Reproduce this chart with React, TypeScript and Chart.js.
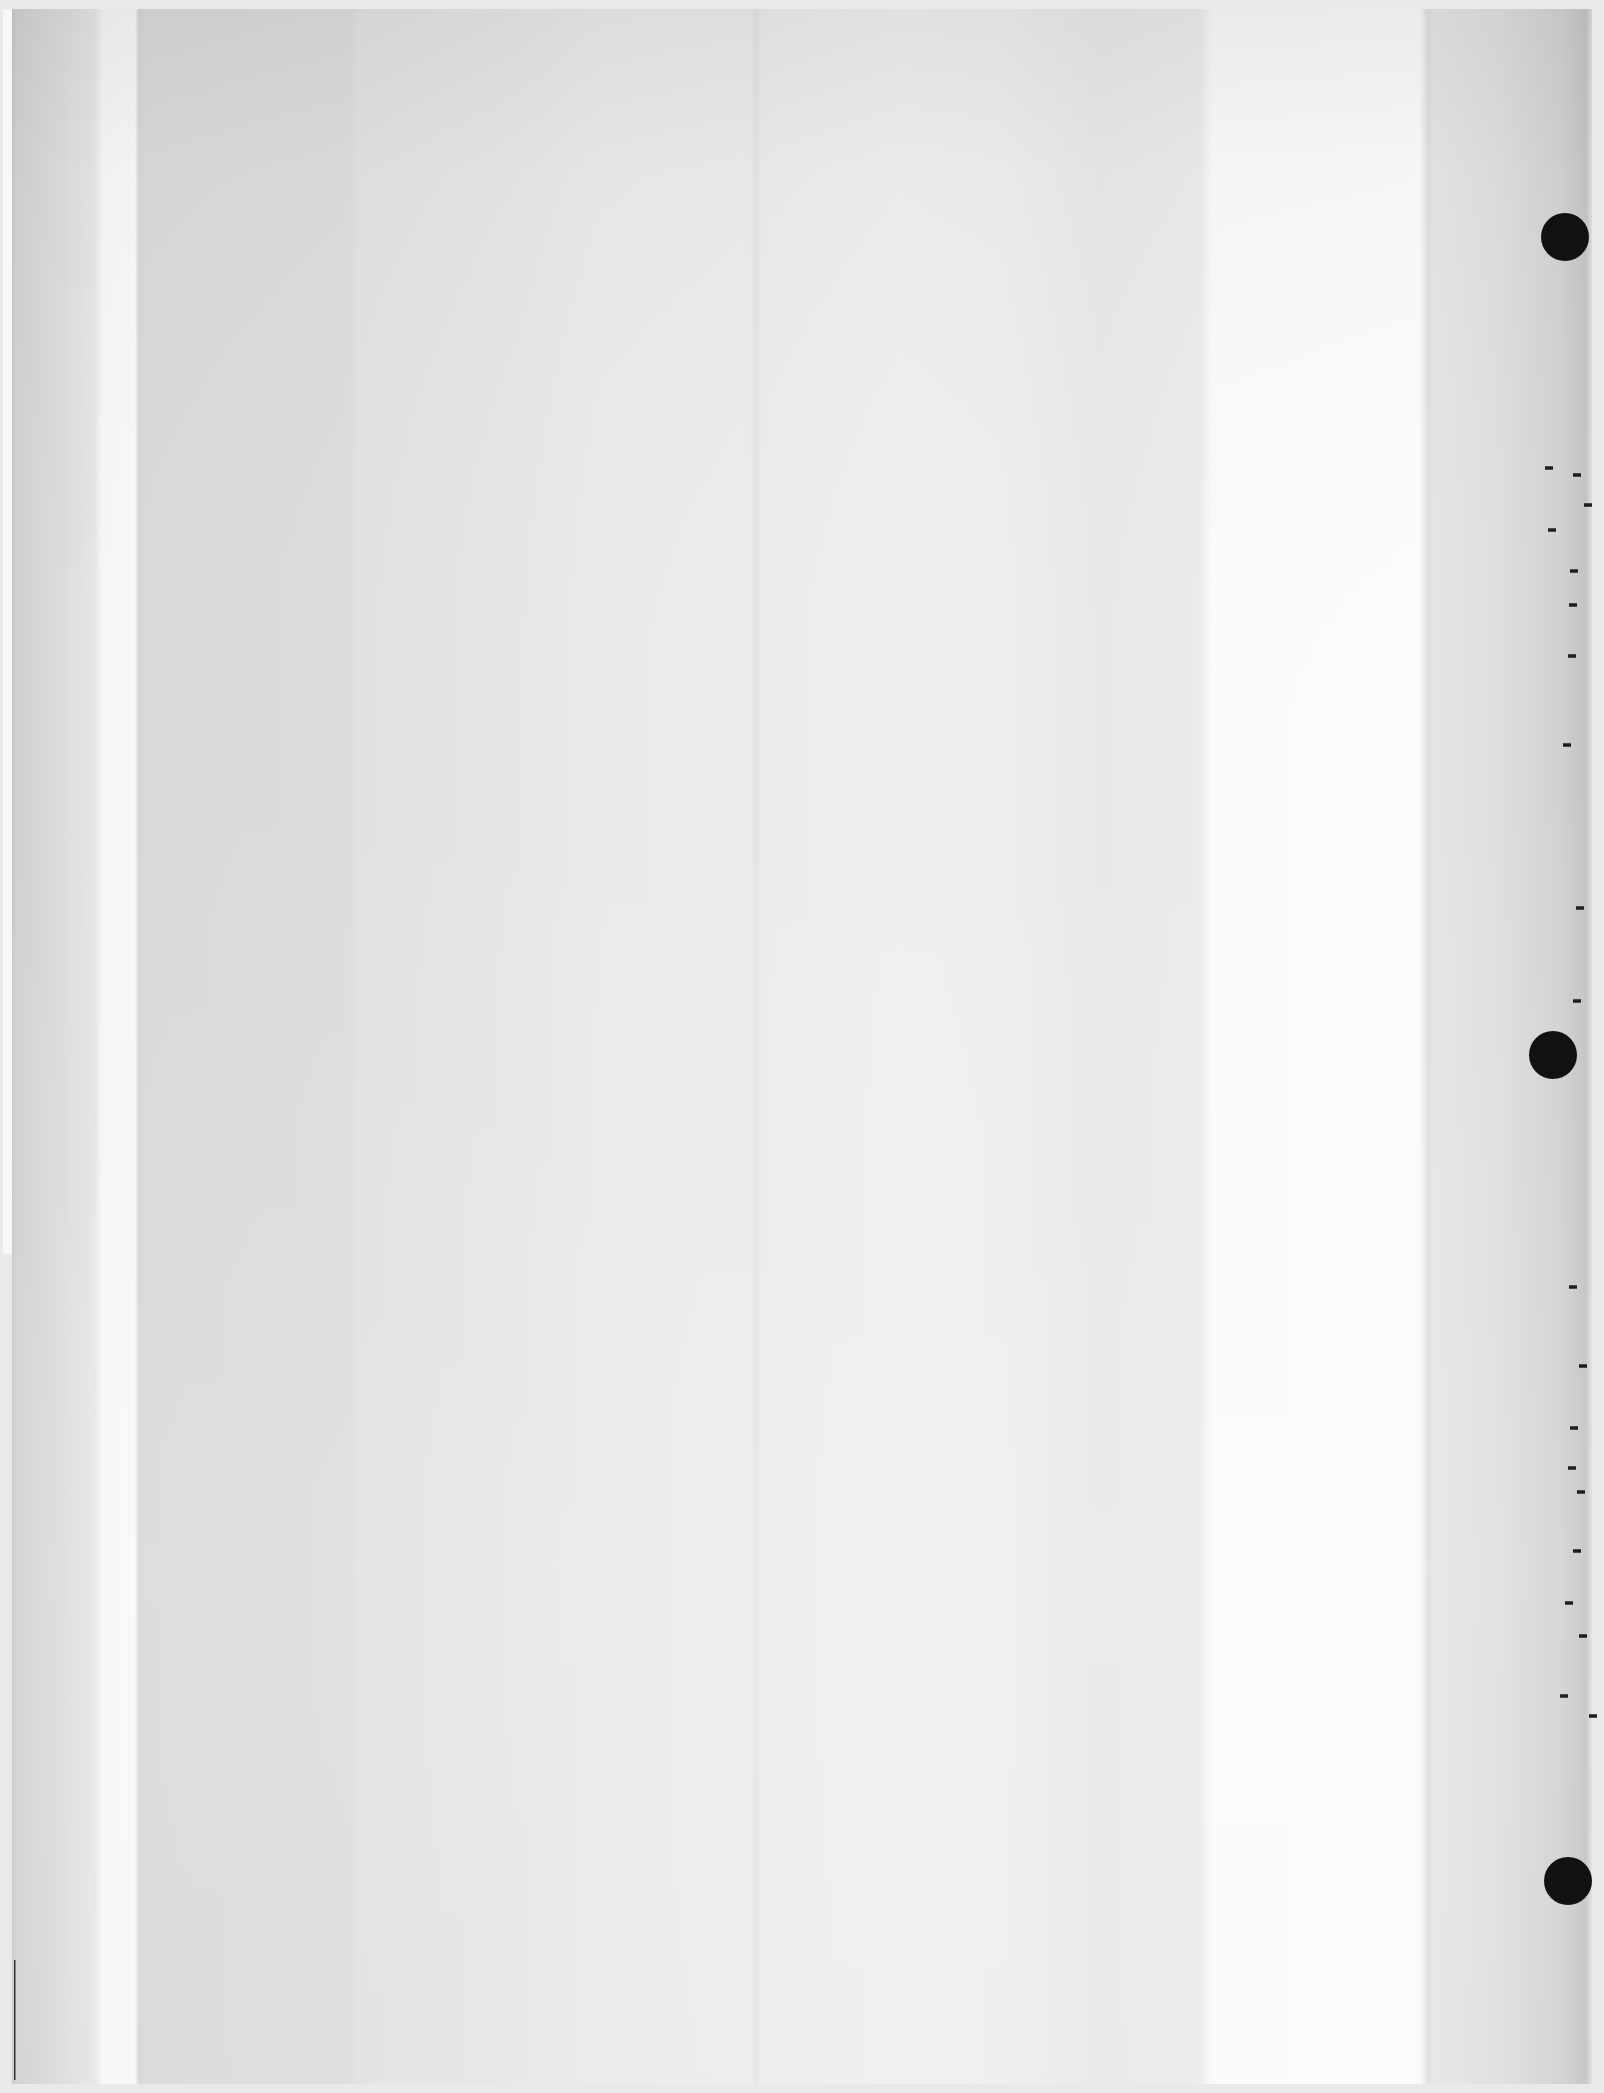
import React, { useEffect, useRef } from "react";
import { Chart, registerables } from "chart.js";

Chart.register(...registerables);

// Page size in picture units (the scan has no plotted data, only punch holes and specks)
const PAGE_W = 1604;
const PAGE_H = 2093;

// Punch holes (centre x, centre y, radius)
const holeX = [1565, 1553, 1568];
const holeY = [237, 1055, 1881];
const holeR = [24, 24, 24];

// Small dark specks along the right margin
const speckX = [1549, 1577, 1588, 1552, 1574, 1573, 1572, 1567, 1580, 1577, 1573, 1583, 1574, 1572, 1581, 1577, 1569, 1583, 1564, 1593];
const speckY = [468, 475, 505, 530, 571, 605, 656, 745, 908, 1001, 1287, 1366, 1428, 1468, 1492, 1551, 1603, 1636, 1696, 1716];

// Paper shading (style only)
const PAPER = { left: 12, top: 9, right: 1592, bottom: 2084 };
const SHADE_STOPS: [number, string][] = [
  [12, "#c6c6c6"], [16, "#d0d0d0"], [60, "#dbdbdb"], [95, "#e5e5e5"],
  [102, "#f6f6f6"], [135, "#f8f8f8"], [139, "#d4d4d4"], [145, "#d9d9d9"],
  [350, "#dcdcdc"], [356, "#e1e1e1"], [520, "#e6e6e6"], [600, "#eaeaea"],
  [750, "#ececec"], [756, "#e3e3e3"], [762, "#ececec"], [900, "#efefef"],
  [1000, "#eeeeee"], [1100, "#e8e8e8"], [1200, "#ebebeb"], [1212, "#fafafa"],
  [1420, "#fbfbfb"], [1428, "#dedede"], [1434, "#e5e5e5"], [1500, "#dedede"],
  [1560, "#d1d1d1"], [1586, "#c3c3c3"], [1592, "#e0e0e0"],
];

const paperPlugin = {
  id: "paper",
  beforeDraw(chart: any) {
    const { ctx, scales } = chart;
    const xs = scales.x;
    const ys = scales.y;
    ctx.save();
    ctx.fillStyle = "#e9e9e9";
    ctx.fillRect(0, 0, chart.width, chart.height);
    const l = xs.getPixelForValue(PAPER.left);
    const r = xs.getPixelForValue(PAPER.right);
    const t = ys.getPixelForValue(PAPER.top);
    const b = ys.getPixelForValue(PAPER.bottom);
    // thin white strip at far left
    ctx.fillStyle = "#f7f7f7";
    ctx.fillRect(xs.getPixelForValue(3), t, l - xs.getPixelForValue(3), (b - t) * 0.6);
    const g = ctx.createLinearGradient(l, 0, r, 0);
    SHADE_STOPS.forEach(([x, c]) => {
      g.addColorStop(Math.min(1, Math.max(0, (xs.getPixelForValue(x) - l) / (r - l))), c);
    });
    ctx.fillStyle = g;
    ctx.fillRect(l, t, r - l, b - t);
    // slightly greyer towards the top of the sheet
    const v = ctx.createLinearGradient(0, t, 0, b);
    v.addColorStop(0, "rgba(120,120,120,0.12)");
    v.addColorStop(0.08, "rgba(120,120,120,0.04)");
    v.addColorStop(0.35, "rgba(255,255,255,0.0)");
    v.addColorStop(0.75, "rgba(255,255,255,0.12)");
    v.addColorStop(1, "rgba(255,255,255,0.08)");
    ctx.fillStyle = v;
    ctx.fillRect(l, t, r - l, b - t);
    // dark left edge line near the bottom
    ctx.fillStyle = "#333";
    ctx.fillRect(l + 2, ys.getPixelForValue(1960), 1.5, ys.getPixelForValue(2080) - ys.getPixelForValue(1960));
    ctx.restore();
  },
};

export default function App() {
  const ref = useRef<HTMLCanvasElement | null>(null);
  useEffect(() => {
    document.body.style.margin = "0";
    document.body.style.background = "#e9e9e9";
    if (!ref.current) return;
    const chart = new Chart(ref.current, {
      type: "bubble",
      data: {
        datasets: [
          {
            label: "holes",
            data: holeX.map((x, i) => ({ x, y: holeY[i], r: holeR[i] })),
            backgroundColor: "#111111",
            borderColor: "#111111",
            borderWidth: 0,
          },
          {
            type: "scatter",
            label: "specks",
            data: speckX.map((x, i) => ({ x, y: speckY[i] })),
            pointStyle: "line",
            pointRadius: 4,
            borderWidth: 3.5,
            borderColor: "#1e1e1e",
            backgroundColor: "#1e1e1e",
          } as any,
        ],
      },
      options: {
        responsive: false,
        animation: false,
        devicePixelRatio: 1,
        layout: { padding: 0, autoPadding: false },
        clip: false as any,
        plugins: { legend: { display: false }, tooltip: { enabled: false } },
        events: [],
        scales: {
          x: { type: "linear", min: 0, max: PAGE_W, display: false },
          y: { type: "linear", min: 0, max: PAGE_H, reverse: true, display: false },
        },
      },
      plugins: [paperPlugin],
    });
    return () => chart.destroy();
  }, []);
  return (
    <div style={{ width: PAGE_W, height: PAGE_H, overflow: "hidden" }}>
      <canvas ref={ref} width={PAGE_W} height={PAGE_H} style={{ display: "block" }} />
    </div>
  );
}
